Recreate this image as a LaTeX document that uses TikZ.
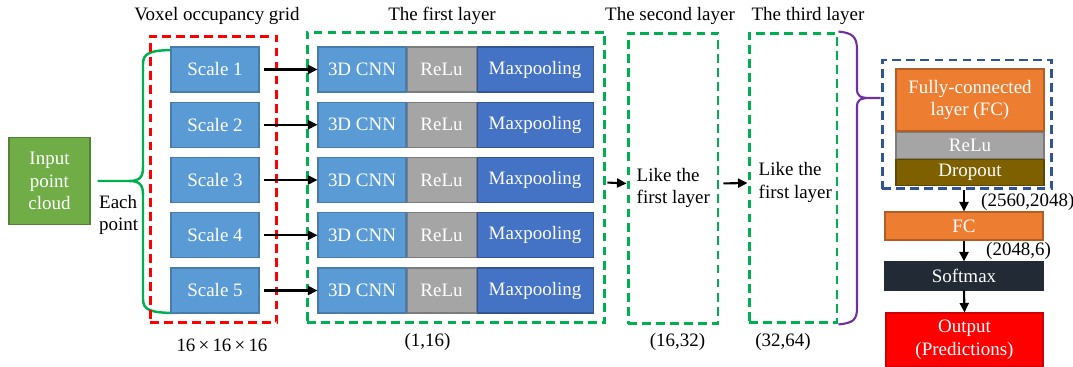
\documentclass[tikz,border=0pt]{standalone}
\usepackage{fontspec}
\setmainfont{Liberation Serif}
\usetikzlibrary{positioning,arrows.meta}
\definecolor{InGreen}{HTML}{70AD47}
\definecolor{LightBlue}{HTML}{5B9BD5}
\definecolor{DarkBlue}{HTML}{4472C4}
\definecolor{ReluGray}{HTML}{A5A5A5}
\definecolor{FcOrange}{HTML}{ED7D31}
\definecolor{DropBrown}{HTML}{7F6000}
\definecolor{SoftNavy}{HTML}{222A35}
\definecolor{DashGreen}{HTML}{00B050}
\definecolor{DashBlue}{HTML}{2F5597}
\definecolor{BracePurple}{HTML}{7030A0}

\begin{document}
\begin{tikzpicture}[
x=0.02cm, y=-0.02cm,
every node/.style={font=\fontsize{10.8}{13}\selectfont},
Block/.style={draw, line width=0.6pt, text=white, inner sep=0pt, minimum height=0.9cm},
ScaleBox/.style={Block, fill=LightBlue, draw=LightBlue!80!black, minimum width=1.76cm},
CnnBox/.style={Block, fill=LightBlue, draw=LightBlue!80!black, minimum width=1.76cm},
ReluBox/.style={Block, fill=ReluGray, draw=ReluGray!75!black, minimum width=1.38cm},
PoolBox/.style={Block, fill=DarkBlue, draw=DarkBlue!75!black, minimum width=2.32cm},
FcBox/.style={Block, fill=FcOrange, draw=FcOrange!75!black},
DashBox/.style={draw, line width=1.7pt, dash pattern=on 5pt off 3pt, inner sep=0pt},
Arrow/.style={-{Triangle[length=1.9mm, width=1.8mm]}, line width=1.2pt}
]

\useasboundingbox (0,0) rectangle (1073,367);

% input
\node[Block, fill=InGreen, draw=InGreen!75!black, minimum width=1.62cm, minimum height=1.74cm, align=center] (inp) at (49.5,181) {Input\\point\\cloud};
\node[align=left, anchor=west] (each) at (93,215) {Each\\point};

\draw[DashGreen, line width=1.4pt] ([xshift=0.14cm]inp.east) -- (129,181) .. controls (140,181) and (143,177) .. (143,167) -- (143,64) .. controls (143,53) and (150,50) .. (176,50)
  (129,181) .. controls (140,181) and (143,185) .. (143,195) -- (143,299) .. controls (143,310) and (150,313) .. (177,313);

% dashed groups
\node[DashBox, draw=red, minimum width=2.54cm, minimum height=5.74cm] (grid) at (213.5,179.5) {};
\node[DashBox, draw=DashGreen, minimum width=5.96cm, minimum height=5.82cm] (L1) at (456,177.5) {};
\node[DashBox, draw=DashGreen, minimum width=1.8cm, minimum height=5.82cm] (L2) at (673,178.5) {};
\node[DashBox, draw=DashGreen, minimum width=1.76cm, minimum height=5.8cm] (L3) at (793,178) {};
\node[align=left, anchor=west] (like2) at ([xshift=0.08cm, yshift=-0.19cm]L2.west) {Like the\\first layer};
\node[align=left, anchor=west] (like3) at ([xshift=0.1cm, yshift=-0.09cm]L3.west) {Like the\\first layer};

% rows
\foreach \i in {1,...,5}{
  \pgfmathsetmacro{\Y}{69.5+55.25*(\i-1)}
  \node[ScaleBox] (s\i) at (215,\Y) {Scale \i};
  \node[CnnBox] (cnn\i) at (362,\Y) {3D CNN};
  \node[ReluBox, right=0pt of cnn\i] (relu\i) {ReLu};
  \node[PoolBox, right=0pt of relu\i] (mp\i) {Maxpooling};
  \draw[Arrow, shorten <=0.08cm] (s\i) -- (cnn\i);
}

\draw[Arrow, shorten <=0.02cm] ([yshift=-0.1cm]L1.east) -- ([yshift=-0.1cm]L2.west);
\draw[Arrow, shorten <=0.08cm] ([yshift=-0.1cm]L2.east) -- ([yshift=-0.1cm]L3.west);

% titles
\node (tgrid) at (217,16) {Voxel occupancy grid};
\node (tfirst) at (442,16) {The first layer};
\node (tsecond) at (670,16) {The second layer};
\node (tthird) at (808,16) {The third layer};

\node (dgrid) at (222,345) {16\,×\,16\,×\,16};
\node (dfirst) at (427.5,342) {(1,16)};
\node (dsecond) at (677.5,342) {(16,32)};
\node (dthird) at (783,342) {(32,64)};

% classifier
\node[FcBox, minimum width=2.96cm, minimum height=1.24cm, align=center] (fc1) at (970,100) {Fully-connected\\layer (FC)};
\node[Block, fill=ReluGray, draw=ReluGray!75!black, minimum width=2.96cm, minimum height=0.52cm, below=0pt of fc1] (relu6) {ReLu};
\node[Block, fill=DropBrown, draw=DropBrown!75!black, minimum width=2.96cm, minimum height=0.52cm, below=0pt of relu6] (drop) {Dropout};
\node[DashBox, draw=DashBlue, minimum width=3.4cm, minimum height=2.58cm] (fcgroup) at (967,124.5) {};

\draw[BracePurple, line width=1.2pt] (L3.north east) .. controls (853,33) and (857,37) .. (857,50) -- (857,89) .. controls (857,96) and (860,98) .. (870,98) -- (fcgroup.west |- 0,98)
  (870,98) .. controls (860,98) and (857,100) .. (857,107) -- (857,308) .. controls (857,320) and (853,323) .. (L3.south east);

\node[FcBox, minimum width=3.16cm, minimum height=0.56cm] (fc2) at (964,226) {FC};
\node[Block, fill=SoftNavy, draw=SoftNavy, minimum width=3.16cm, minimum height=0.56cm] (soft) at (964,276) {Softmax};
\node[Block, fill=red, draw=red!80!black, minimum width=3.14cm, minimum height=1.08cm, align=center] (out) at (964.5,340) {Output\\(Predictions)};

\draw[Arrow] (fc2.north |- fcgroup.south) -- (fc2.north);
\draw[Arrow] (fc2.south) -- (soft.north);
\draw[Arrow] (soft.south) -- (out.north);

\node[anchor=west] (dfc1) at (975,202) {(2560,2048)};
\node[anchor=west] (dfc2) at (980,251) {(2048,6)};

\end{tikzpicture}
\end{document}
